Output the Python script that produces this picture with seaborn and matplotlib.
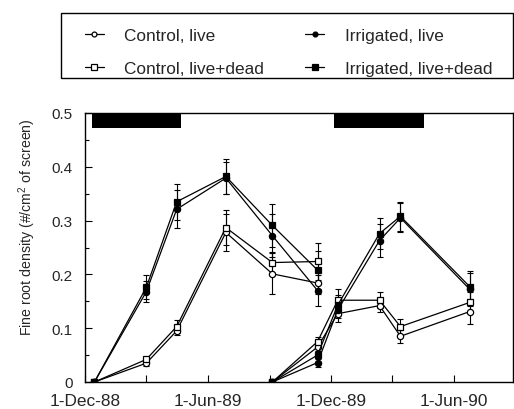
import matplotlib
matplotlib.use("Agg")
import matplotlib.pyplot as plt
import matplotlib.dates as mdates
from matplotlib.lines import Line2D
from matplotlib.patches import Rectangle
from matplotlib.ticker import MultipleLocator
import numpy as np
import pandas as pd
import seaborn as sns

# Sampling dates for the two growing seasons
dates_1 = ["1988-12-15", "1989-03-02", "1989-04-16", "1989-06-28", "1989-09-05", "1989-11-11"]
dates_2 = ["1989-09-05", "1989-11-11", "1989-12-11", "1990-02-11", "1990-03-14", "1990-06-25"]

# Mean fine root density (#/cm2 of screen), season 1
control_live_1 = [0.0, 0.035, 0.095, 0.278, 0.201, 0.184]
control_ld_1 = [0.0, 0.042, 0.103, 0.287, 0.222, 0.224]
irrigated_live_1 = [0.0, 0.168, 0.321, 0.379, 0.272, 0.170]
irrigated_ld_1 = [0.0, 0.176, 0.335, 0.382, 0.291, 0.208]

# Standard errors, season 1
control_live_se_1 = [0.0, 0.005, 0.008, 0.035, 0.038, 0.020]
control_ld_se_1 = [0.0, 0.005, 0.012, 0.033, 0.020, 0.034]
irrigated_live_se_1 = [0.0, 0.020, 0.035, 0.030, 0.040, 0.028]
irrigated_ld_se_1 = [0.0, 0.022, 0.033, 0.032, 0.040, 0.035]

# Mean fine root density, season 2
control_live_2 = [0.0, 0.065, 0.127, 0.142, 0.085, 0.131]
control_ld_2 = [0.0, 0.075, 0.152, 0.152, 0.103, 0.148]
irrigated_live_2 = [0.0, 0.036, 0.134, 0.263, 0.305, 0.172]
irrigated_ld_2 = [0.0, 0.050, 0.143, 0.276, 0.308, 0.177]

# Standard errors, season 2
control_live_se_2 = [0.0, 0.008, 0.015, 0.012, 0.012, 0.023]
control_ld_se_2 = [0.0, 0.008, 0.020, 0.015, 0.015, 0.020]
irrigated_live_se_2 = [0.0, 0.008, 0.015, 0.030, 0.027, 0.030]
irrigated_ld_se_2 = [0.0, 0.008, 0.018, 0.028, 0.027, 0.030]

# Irrigation periods shown as black bars along the top
irrigation_periods = [("1988-12-11", "1989-04-23"), ("1989-12-06", "1990-04-18")]

labels = ["Control, live", "Control, live+dead", "Irrigated, live", "Irrigated, live+dead"]
series_markers = {"Control, live": ("o", "white", 4.5),
                  "Control, live+dead": ("s", "white", 5.0),
                  "Irrigated, live": ("o", "black", 4.5),
                  "Irrigated, live+dead": ("s", "black", 5.0)}

rows = []
for season, dates, groups in [
    (1, dates_1, [(control_live_1, control_live_se_1), (control_ld_1, control_ld_se_1),
                  (irrigated_live_1, irrigated_live_se_1), (irrigated_ld_1, irrigated_ld_se_1)]),
    (2, dates_2, [(control_live_2, control_live_se_2), (control_ld_2, control_ld_se_2),
                  (irrigated_live_2, irrigated_live_se_2), (irrigated_ld_2, irrigated_ld_se_2)]),
]:
    for label, (vals, ses) in zip(labels, groups):
        for d, v, s in zip(dates, vals, ses):
            rows.append({"date": pd.Timestamp(d), "density": v, "se": s,
                         "series": label, "season": season})
df = pd.DataFrame(rows)

sns.set_style("ticks")
plt.rcParams["font.family"] = ["Liberation Sans", "DejaVu Sans"]
plt.rcParams["mathtext.fontset"] = "custom"
plt.rcParams["mathtext.rm"] = "Liberation Sans"
plt.rcParams["mathtext.it"] = "Liberation Sans:italic"

fig = plt.figure(figsize=(5.14, 4.10), dpi=100)
ax = fig.add_axes([85 / 514, 1 - 383 / 410, 428 / 514, 269 / 410])

for (label, season), sub in df.groupby(["series", "season"], sort=False):
    marker, face, ms = series_markers[label]
    ax.errorbar(sub["date"], sub["density"], yerr=sub["se"], fmt="none",
                ecolor="black", elinewidth=0.8, capsize=2.2, capthick=0.8, zorder=2)
    sns.lineplot(data=sub, x="date", y="density", ax=ax, color="black",
                 marker=marker, markerfacecolor=face, markeredgecolor="black",
                 markeredgewidth=0.9, markersize=ms, linewidth=0.9,
                 estimator=None, sort=False, legend=False, zorder=3)

for start, end in irrigation_periods:
    ax.axvspan(pd.Timestamp(start), pd.Timestamp(end), ymin=0.944, ymax=1.0,
               color="black", lw=0, zorder=4)

ax.set_xlim(pd.Timestamp("1988-12-01"), pd.Timestamp("1990-08-28"))
ax.set_ylim(0, 0.5)

ax.xaxis.set_major_locator(mdates.MonthLocator(bymonth=[6, 12]))
ax.xaxis.set_minor_locator(mdates.MonthLocator(bymonth=[3, 9]))
ax.xaxis.set_major_formatter(mdates.DateFormatter("%-d-%b-%y"))
ax.yaxis.set_major_locator(MultipleLocator(0.1))
ax.yaxis.set_minor_locator(MultipleLocator(0.05))
ax.yaxis.set_major_formatter(plt.FuncFormatter(lambda v, p: "0" if v == 0 else f"{v:.1f}"))

ax.tick_params(axis="both", which="both", direction="in", color="black")
ax.tick_params(axis="x", which="major", length=5, width=0.8, pad=8, labelsize=12.4)
ax.tick_params(axis="x", which="minor", length=5, width=0.8)
ax.tick_params(axis="y", which="major", length=5, width=0.8, pad=9, labelsize=11)
ax.tick_params(axis="y", which="minor", length=3, width=0.8)

for side in ["left", "bottom", "top", "right"]:
    ax.spines[side].set_visible(True)
    ax.spines[side].set_color("black")
    ax.spines[side].set_linewidth(1.0)

ax.set_xlabel("")
ax.set_ylabel("Fine root density (#/cm$^2$ of screen)", fontsize=10.2)
ax.yaxis.set_label_coords(-0.11, 0.58)

# Legend inside a framed box above the axes
fig.patches.append(Rectangle((61 / 514, 1 - 79 / 410), 452 / 514, 65 / 410,
                             transform=fig.transFigure, fill=False,
                             edgecolor="black", linewidth=1.0))
handles = []
for label in labels:
    marker, face, ms = series_markers[label]
    handles.append(Line2D([], [], color="black", linewidth=0.9, marker=marker,
                          markersize=ms - 1, markerfacecolor=face,
                          markeredgecolor="black", markeredgewidth=0.9))
fig.legend(handles, labels, ncol=2, loc="upper left",
           bbox_to_anchor=(76 / 514, 1 - 20 / 410), frameon=False,
           fontsize=12.4, handlelength=1.1, handletextpad=1.2,
           columnspacing=2.4, labelspacing=1.05, borderpad=0.0)

fig.savefig("out.png", dpi=100)
